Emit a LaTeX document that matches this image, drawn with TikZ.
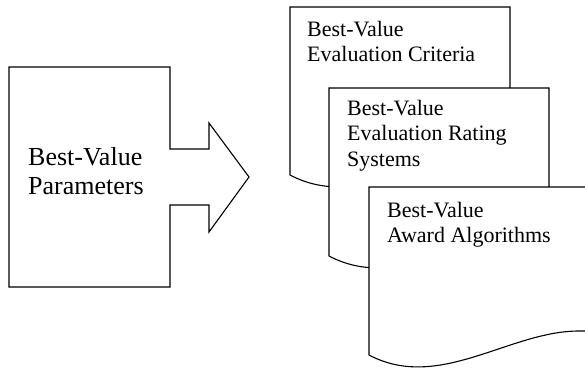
\documentclass[tikz,border=0pt]{standalone}
\usepackage{fontspec}
\setmainfont{Liberation Serif}
\tikzset{
  page/.style={draw, fill=white, line width=1.1pt, line join=miter},
  pagetext/.style={anchor=north west, inner sep=0pt, align=left, font=\fontsize{22}{25.5}\selectfont},
  bigtext/.style={anchor=north west, inner sep=0pt, align=left, font=\fontsize{26}{29}\selectfont}
}
\begin{document}
\begin{tikzpicture}[x=1pt, y=-1pt]
\useasboundingbox (0,0) rectangle (585,369);

% block arrow on the left
\draw [page] (9,67) -- (170,67) -- (170,149) -- (209,149) -- (209,123) -- (249,177)
  -- (209,232) -- (209,205) -- (170,205) -- (170,287) -- (9,287) -- cycle;
\path (9,67) ++(19,80) node (param) [bigtext] {Best-Value\\Parameters};

% three stacked pages
\coordinate (p1) at (290,7);
\coordinate (p2) at (329,88);
\coordinate (p3) at (369,187);

\draw [page, shift={(p1)}] (0,0) -- (220,0) -- (220,144) -- (210,144)
  .. controls (140,144) and (70,205) .. (0,168) -- cycle;
\path (p1) ++(17,14) node (crit) [pagetext] {Best-Value\\Evaluation Criteria};

\draw [page, shift={(p2)}] (0,0) -- (220,0) -- (220,144) -- (210,144)
  .. controls (140,144) and (70,205) .. (0,168) -- cycle;
\path (p2) ++(18,12) node (rate) [pagetext] {Best-Value\\Evaluation Rating\\Systems};

\draw [page, shift={(p3)}] (0,0) -- (220,0) -- (220,144) -- (210,144)
  .. controls (140,144) and (70,205) .. (0,168) -- cycle;
\path (p3) ++(18,15) node (algo) [pagetext] {Best-Value\\Award Algorithms};

\end{tikzpicture}
\end{document}
